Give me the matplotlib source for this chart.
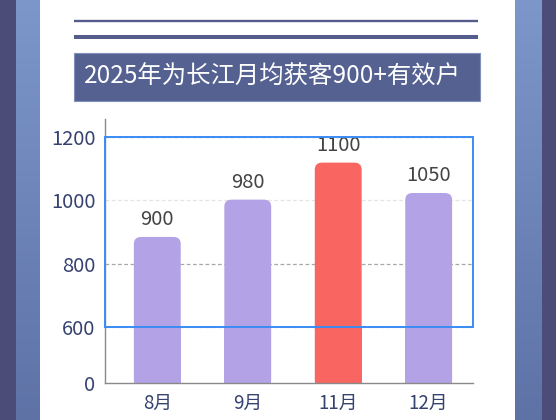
import numpy as np
import matplotlib
matplotlib.use("Agg")
import matplotlib.pyplot as plt
from matplotlib.patches import Rectangle, FancyBboxPatch

plt.rcParams['font.family'] = ['Noto Sans CJK SC', 'DejaVu Sans']

# ---- data ----
categories = ['8月', '9月', '11月', '12月']
bar_heights = [884, 1002, 1119, 1023]          # heights as drawn on the axis
value_labels = ['900', '980', '1100', '1050']  # labels printed above bars
bar_colors = ['#b3a2e6', '#b3a2e6', '#f96560', '#b3a2e6']
y_ticks = [0, 600, 800, 1000, 1200]
title = '2025年为长江月均获客900+有效户'

W, H = 556, 420
fig = plt.figure(figsize=(W / 100, H / 100), dpi=100)

# ---- background decoration (pixel coords) ----
bg = fig.add_axes([0, 0, 1, 1], zorder=-10)
bg.set_xlim(0, W)
bg.set_ylim(H, 0)
bg.axis('off')
bg.add_patch(Rectangle((0, 0), W, H, color='white', zorder=0.1))
bg.add_patch(Rectangle((0, 0), 16, H, color='#4c4c79', zorder=0.2))
bg.add_patch(Rectangle((542, 0), 14, H, color='#4c4c79', zorder=0.2))
top = np.array([0x7d, 0x97, 0xcb]) / 255
bot = np.array([0x5e, 0x72, 0xa6]) / 255
t = np.linspace(0, 1, 200)[:, None]
grad = (top[None, :] * (1 - t) + bot[None, :] * t)[:, None, :]
for x0, x1 in [(16, 40), (515, 542)]:
    bg.imshow(grad, extent=(x0, x1, H, 0), aspect='auto', interpolation='bilinear', zorder=0.3)
bg.set_xlim(0, W)
bg.set_ylim(H, 0)
bg.plot([74, 478], [21, 21], color='#555c8c', lw=1.7, solid_capstyle='butt')
bg.plot([74, 478], [37, 37], color='#555c8c', lw=2.9, solid_capstyle='butt')
bg.add_patch(Rectangle((74, 53), 406, 48, facecolor='#546191', edgecolor='#8190bb', lw=0.8, zorder=1))
bg.text(84, 77, title, color='white', fontsize=17.6, va='center', ha='left', zorder=2)

# ---- chart ----
c = (56.3 / 600) / (63.3 / 200)
def fwd(v):
    v = np.asarray(v, dtype=float)
    return np.where(v <= 600, v * c, 600 * c + (v - 600))
def inv(u):
    u = np.asarray(u, dtype=float)
    return np.where(u <= 600 * c, u / c, u - 600 * c + 600)

ax = fig.add_axes([105 / W, 1 - 383 / H, (473 - 105) / W, (383 - 119) / H])
ax.set_facecolor('none')
ax.set_yscale('function', functions=(fwd, inv))
ax.set_ylim(0, 1257)
x = np.arange(len(categories))
ax.set_xlim(-0.578, 3.49)
width = 0.518

# gridlines
grid_styles = {600: '#cfcfcf', 800: '#a8a8a8', 1000: '#e4e4e4', 1200: '#a8a8a8'}
for yv, col in grid_styles.items():
    ax.axhline(yv, color=col, lw=0.9, ls=(0, (3, 2)), zorder=0)

r_x = 0.08
asp = (7.0 / 0.3165) / r_x
for xi, h, col in zip(x, bar_heights, bar_colors):
    ax.bar(xi, min(h, 600), width=width, color=col, zorder=2, linewidth=0)
    p = FancyBboxPatch((xi - width / 2, 0), width, h,
                       boxstyle=f"round,pad=0,rounding_size={r_x}",
                       mutation_aspect=asp, facecolor=col, edgecolor='none', zorder=2)
    ax.add_patch(p)

for xi, h, lab in zip(x, bar_heights, value_labels):
    ax.annotate(lab, (xi, h), xytext=(0, 5), textcoords='offset points',
                ha='center', va='bottom', fontsize=14.5, color='#444444')

# selection-like blue frame
ax.add_patch(Rectangle((-0.578, 600), 3.49 + 0.578, 600, facecolor='none',
                       edgecolor='#3a8cf4', lw=1.4, zorder=3, clip_on=False))

ax.set_yticks(y_ticks)
ax.set_yticklabels([str(v) for v in y_ticks])
ax.set_xticks(x)
ax.set_xticklabels(categories)
ax.tick_params(axis='y', length=0, pad=7, labelsize=14.5, labelcolor='#36426f')
ax.tick_params(axis='x', length=0, pad=7, labelsize=13.5, labelcolor='#36426f')
for s in ['top', 'right']:
    ax.spines[s].set_visible(False)
for s in ['left', 'bottom']:
    ax.spines[s].set_color('#8a8a8a')
    ax.spines[s].set_linewidth(1.0)

fig.savefig('out.png', dpi=100)
